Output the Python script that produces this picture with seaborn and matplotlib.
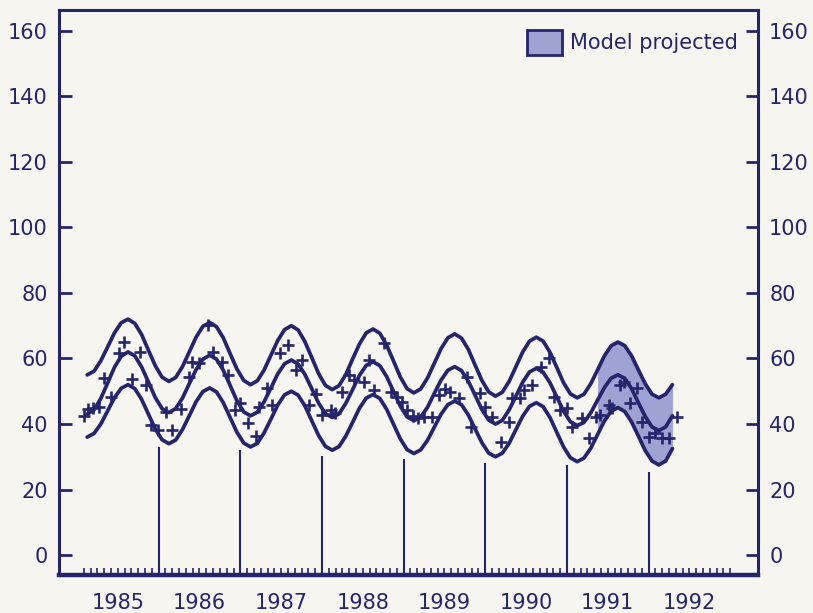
import numpy as np
import pandas as pd
import matplotlib
matplotlib.use("Agg")
import matplotlib.pyplot as plt
import seaborn as sns
from matplotlib.patches import Patch

# ---------------- data ----------------
years = [1985, 1986, 1987, 1988, 1989, 1990, 1991, 1992]

# monthly model curves, Feb 1985 .. Apr 1992
upper = [55, 56.1, 59.3, 63.5, 67.8, 70.9, 72, 70.7, 67.3, 62.5, 57.8,
         54.3, 53, 54.2, 57.5, 62, 66.5, 69.8, 71, 69.7, 66.3, 61.5, 56.8,
         53.3, 52, 53.2, 56.5, 61, 65.5, 68.8, 70, 68.7, 65.1, 60.3, 55.4,
         51.8, 50.5, 51.7, 55.1, 59.8, 64.4, 67.8, 69, 67.7, 64.1, 59.3, 54.4,
         50.8, 49.5, 50.7, 54, 58.5, 63, 66.3, 67.5, 66.2, 62.8, 58, 53.3,
         49.8, 48.5, 49.7, 53, 57.5, 62, 65.3, 66.5, 65.3, 61.9, 57.3, 52.6,
         49.2, 48, 49.1, 52.3, 56.5, 60.8, 63.9, 65, 63.9, 60.8, 56.5, 52.3,
         49.1, 48, 49.1, 52]
middle = [43, 44.3, 47.8, 52.5, 57.3, 60.7, 62, 60.8, 57.4, 52.8, 48.1,
          44.7, 43.5, 44.7, 47.9, 52.3, 56.6, 59.8, 61, 59.8, 56.4, 51.8, 47.1,
          43.7, 42.5, 43.6, 46.8, 51, 55.3, 58.4, 59.5, 58.3, 55.1, 50.8, 46.4,
          43.2, 42, 43.1, 46.3, 50.5, 54.8, 57.9, 59, 57.8, 54.5, 50, 45.5,
          42.2, 41, 42.1, 45.1, 49.3, 53.4, 56.4, 57.5, 56.3, 53.1, 48.8, 44.4,
          41.2, 40, 41.1, 44.3, 48.5, 52.8, 55.9, 57, 55.8, 52.6, 48.3, 43.9,
          40.7, 39.5, 40.5, 43.4, 47.3, 51.1, 54, 55, 53.9, 50.8, 46.5, 42.3,
          39.1, 38, 39.1, 42.5]
lower = [36, 37.1, 40, 44, 48, 50.9, 52, 50.8, 47.5, 43, 38.5,
         35.2, 34, 35.1, 38.3, 42.5, 46.8, 49.9, 51, 49.8, 46.5, 42, 37.5,
         34.2, 33, 34.1, 37.3, 41.5, 45.8, 48.9, 50, 48.8, 45.5, 41, 36.5,
         33.2, 32, 33.1, 36.3, 40.5, 44.8, 47.9, 49, 47.8, 44.5, 40, 35.5,
         32.2, 31, 32.1, 35, 39, 43, 45.9, 47, 45.9, 42.8, 38.5, 34.3,
         31.1, 30, 31.1, 34.1, 38.3, 42.4, 45.4, 46.5, 45.3, 42, 37.5, 33,
         29.7, 28.5, 29.6, 32.6, 36.8, 40.9, 43.9, 45, 43.8, 40.6, 36.3, 31.9,
         28.7, 27.5, 28.7, 32.5]

# observed points (+)
obs_t = [1985.09, 1985.13, 1985.19, 1985.27, 1985.33, 1985.42, 1985.51, 1985.58,
         1985.67, 1985.77, 1985.85, 1985.91, 1985.99, 1986.09, 1986.16, 1986.27,
         1986.37, 1986.41, 1986.50, 1986.60, 1986.66, 1986.78, 1986.85, 1986.94,
         1987.00, 1987.09, 1987.19, 1987.23, 1987.33, 1987.39, 1987.49, 1987.59,
         1987.68, 1987.76, 1987.84, 1987.93, 1988.00, 1988.11, 1988.16, 1988.25,
         1988.33, 1988.39, 1988.51, 1988.57, 1988.64, 1988.76, 1988.84, 1988.92,
         1988.98, 1989.04, 1989.11, 1989.17, 1989.25, 1989.35, 1989.43, 1989.51,
         1989.57, 1989.68, 1989.78, 1989.82, 1989.94, 1990.00, 1990.08, 1990.19,
         1990.29, 1990.33, 1990.43, 1990.47, 1990.57, 1990.68, 1990.78, 1990.84,
         1990.92, 1991.00, 1991.06, 1991.19, 1991.27, 1991.35, 1991.41, 1991.51,
         1991.55, 1991.65, 1991.70, 1991.77, 1991.86, 1991.92, 1992.00, 1992.08,
         1992.17, 1992.25, 1992.35]
obs_v = [42.4, 44.5, 44.8, 45.3, 54.1, 48.2, 61.6, 65.1,
         53.7, 61.9, 51.9, 39.7, 38.2, 43.8, 38.2, 44.6,
         54.4, 59.0, 58.5, 70.2, 62.1, 59.0, 55.0, 44.3,
         46.3, 40.2, 36.3, 45.3, 50.9, 45.8, 61.6, 64.1,
         56.5, 59.5, 45.8, 49.2, 42.7, 44.3, 43.5, 49.9,
         55.0, 53.4, 52.9, 59.5, 50.4, 64.6, 49.9, 48.3,
         46.8, 44.3, 42.4, 41.7, 42.2, 42.2, 48.9, 50.6,
         49.9, 47.8, 54.4, 39.2, 49.4, 45.3, 42.2, 34.6,
         40.7, 47.8, 47.8, 50.4, 51.9, 57.5, 60.1, 48.3,
         44.3, 44.8, 39.2, 41.7, 35.6, 42.2, 42.7, 45.8,
         44.8, 51.9, 52.9, 46.3, 50.9, 40.7, 36.1, 37.2,
         35.6, 35.6, 42.2]

# vertical year-boundary lines and their top values
line_years = [1986, 1987, 1988, 1989, 1990, 1991, 1992]
line_tops = [33, 32, 30.2, 29.3, 28.1, 27.5, 25.3]

projection_start = 1991 + 4.5 / 12   # May 1991
legend_label = "Model projected"
yticks = [0, 20, 40, 60, 80, 100, 120, 140, 160]

# ---------------- style ----------------
INK = "#25256c"
FILL = "#9fa3d3"
BG = "#f6f5ef"

sns.set_theme(style="ticks")
plt.rcParams["font.family"] = ["DejaVu Sans"]

fig = plt.figure(figsize=(8.13, 6.13), dpi=100, facecolor=BG)
ax = fig.add_axes([0.0726, 0.062, 0.8598, 0.9217])
ax.set_facecolor(BG)

months_t = 1985 + 1.5 / 12 + np.arange(len(upper)) / 12.0
df = pd.concat([
    pd.DataFrame({"t": months_t, "value": upper, "band": "upper"}),
    pd.DataFrame({"t": months_t, "value": middle, "band": "middle"}),
    pd.DataFrame({"t": months_t, "value": lower, "band": "lower"}),
])

# shaded projection band
mask = months_t >= projection_start - 1e-9
ax.fill_between(months_t[mask], np.array(lower)[mask], np.array(upper)[mask],
                color=FILL, linewidth=0, zorder=1)

sns.lineplot(data=df, x="t", y="value", units="band", estimator=None,
             sort=False, color=INK, linewidth=2.7, ax=ax, zorder=3)

sns.scatterplot(x=obs_t, y=obs_v, marker="+", s=80, color=INK,
                linewidth=1.9, ax=ax, zorder=4)

ax.set_xlim(1984.78, 1993.34)
ax.set_ylim(-6.1, 166.4)

ax.vlines(line_years, ymin=-6.1, ymax=line_tops, color=INK, linewidth=1.5,
          zorder=2)

# ticks
ax.set_yticks(yticks)
ax.set_yticklabels([str(v) for v in yticks])
ax.tick_params(axis="y", which="major", direction="in", length=9, width=2,
               color=INK, labelcolor=INK, labelsize=15, pad=8,
               left=True, right=True, labelleft=True, labelright=True)

ax.xaxis.remove_overlapping_locs = False
ax.set_xticks([y + 0.5 for y in years])
ax.set_xticklabels([str(y) for y in years])
ax.set_xticks([1985 + k / 12 for k in range(1, 97)], minor=True)
ax.tick_params(axis="x", which="major", length=0, pad=13, labelsize=15,
               labelcolor=INK)
ax.tick_params(axis="x", which="minor", direction="in", length=5, width=1.2,
               color=INK, top=False)
ax.tick_params(axis="y", which="minor", left=False, right=False)

ax.set_xlabel("")
ax.set_ylabel("")

for name, sp in ax.spines.items():
    sp.set_visible(True)
    sp.set_color(INK)
    sp.set_linewidth(2.2)
ax.spines["bottom"].set_linewidth(3.2)

handles = [Patch(facecolor=FILL, edgecolor=INK, linewidth=2, label=legend_label)]
ax.legend(handles=handles, loc="upper left", bbox_to_anchor=(0.6695, 0.9646),
          frameon=False, borderpad=0, borderaxespad=0, handlelength=1.7,
          handleheight=1.45, handletextpad=0.35, fontsize=15, labelcolor=INK)

fig.savefig("out.png", dpi=100, facecolor=BG)
